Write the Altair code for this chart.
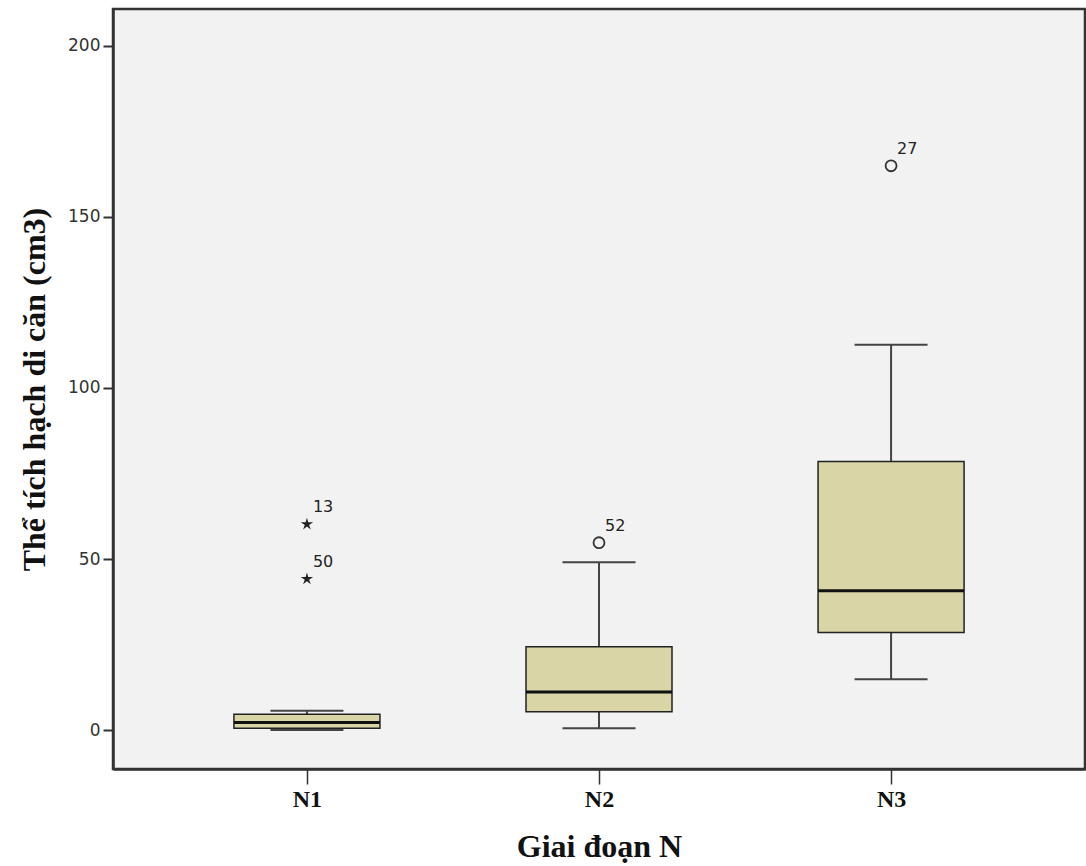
import altair as alt
import pandas as pd

# Box statistics per group
groups = ["N1", "N2", "N3"]
lower_whisker = [0.1, 0.6, 14.9]
q1 = [0.6, 5.4, 28.6]
median = [2.3, 11.2, 40.8]
q3 = [4.7, 24.4, 78.5]
upper_whisker = [5.7, 49.1, 112.6]

# Outliers
outlier_group = ["N1", "N1", "N2", "N3"]
outlier_value = [60.2, 44.2, 54.8, 164.9]
outlier_id = ["13", "50", "52", "27"]
outlier_kind = ["extreme", "extreme", "mild", "mild"]

y_ticks = [0, 50, 100, 150, 200]

boxes = pd.DataFrame({
    "group": groups, "lower": lower_whisker, "q1": q1,
    "median": median, "q3": q3, "upper": upper_whisker,
})
outs = pd.DataFrame({
    "group": outlier_group, "value": outlier_value,
    "id": outlier_id, "kind": outlier_kind,
})

STAR = ("M0,-1L0.2,-0.3L0.95,-0.31L0.33,0.11L0.59,0.81L0,0.36"
        "L-0.59,0.81L-0.33,0.11L-0.95,-0.31L-0.2,-0.3Z")

x_enc = alt.X(
    "group:N",
    sort=groups,
    scale=alt.Scale(type="point", padding=0.664),
    axis=alt.Axis(
        title="Giai đoạn N",
        labelAngle=0,
        labelFont="Liberation Serif",
        labelFontWeight="bold",
        labelFontSize=24,
        labelColor="#111",
        labelPadding=3,
        tickSize=15,
        tickColor="#333",
        tickWidth=1.5,
        domainColor="#333",
        domainWidth=2.5,
        titleFont="Liberation Serif",
        titleFontWeight="bold",
        titleFontSize=32,
        titleColor="#111",
        titlePadding=20,
    ),
)
y_scale = alt.Scale(domain=[-11.3, 210.7], nice=False, zero=False)
y_axis = alt.Axis(
    title="Thể tích hạch di căn (cm3)",
    values=y_ticks,
    grid=False,
    labelFont="DejaVu Sans",
    labelFontSize=17,
    labelColor="#333",
    labelPadding=3,
    tickSize=10,
    tickColor="#333",
    tickWidth=2,
    domainColor="#333",
    domainWidth=2.5,
    titleFont="Liberation Serif",
    titleFontWeight="bold",
    titleFontSize=32,
    titleColor="#111",
    titlePadding=16,
)

base = alt.Chart(boxes)

lower_rule = base.mark_rule(color="#444", strokeWidth=2).encode(
    x=x_enc, y=alt.Y("lower:Q", scale=y_scale, axis=y_axis), y2="q1:Q")
upper_rule = base.mark_rule(color="#444", strokeWidth=2).encode(
    x=x_enc, y=alt.Y("q3:Q", scale=y_scale, axis=y_axis), y2="upper:Q")
lower_cap = base.mark_tick(orient="horizontal", size=73, thickness=2,
                           color="#444", opacity=1).encode(
    x=x_enc, y=alt.Y("lower:Q", scale=y_scale, axis=y_axis))
upper_cap = base.mark_tick(orient="horizontal", size=73, thickness=2,
                           color="#444", opacity=1).encode(
    x=x_enc, y=alt.Y("upper:Q", scale=y_scale, axis=y_axis))
box = base.mark_bar(size=146, fill="#d9d5a7", stroke="#222",
                    strokeWidth=1.5, opacity=1).encode(
    x=x_enc, y=alt.Y("q1:Q", scale=y_scale, axis=y_axis), y2="q3:Q")
med = base.mark_tick(orient="horizontal", size=146, thickness=3,
                     color="#111", opacity=1).encode(
    x=x_enc, y=alt.Y("median:Q", scale=y_scale, axis=y_axis))

ob = alt.Chart(outs)
circles = ob.transform_filter(alt.datum.kind == "mild").mark_point(
    shape="circle", filled=False, size=120, color="#333", strokeWidth=1.8,
    opacity=1).encode(
    x=x_enc, y=alt.Y("value:Q", scale=y_scale, axis=y_axis))
stars = ob.transform_filter(alt.datum.kind == "extreme").mark_point(
    shape=STAR, filled=True, size=170, color="#222", opacity=1).encode(
    x=x_enc, y=alt.Y("value:Q", scale=y_scale, axis=y_axis))
labels = ob.mark_text(align="left", baseline="middle", dx=6, dy=-17,
                      font="DejaVu Sans", fontSize=16, color="#222").encode(
    x=x_enc, y=alt.Y("value:Q", scale=y_scale, axis=y_axis), text="id:N")

chart = alt.layer(
    lower_rule, upper_rule, lower_cap, upper_cap, box, med,
    circles, stars, labels,
).properties(
    width=972, height=760,
    autosize=alt.AutoSizeParams(type="none"),
    padding={"left": 113, "top": 9, "right": 1, "bottom": 97},
    background="white",
).configure_view(
    fill="#f2f2f2", stroke="#333", strokeWidth=2.5,
)

chart.save("out.html", embed_options={"renderer": "svg", "actions": False})
